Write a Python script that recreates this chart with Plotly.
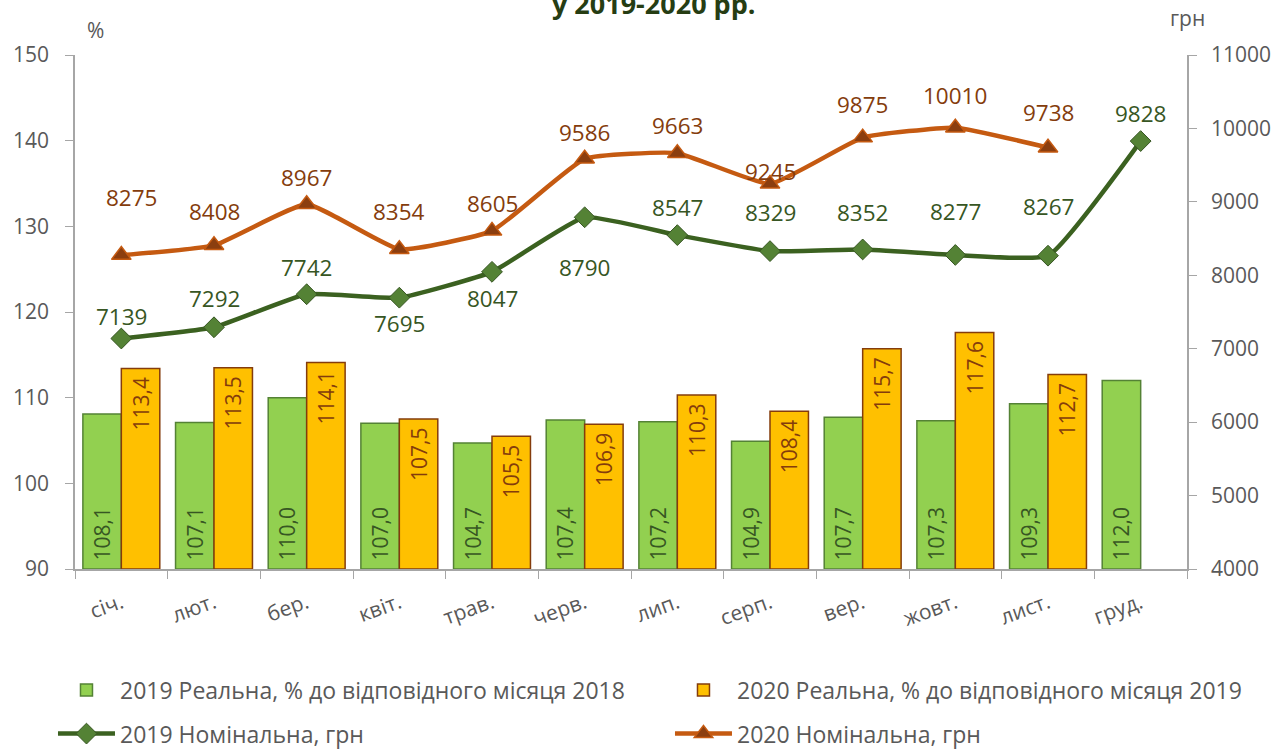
import plotly.graph_objects as go

months = ["січ.", "лют.", "бер.", "квіт.", "трав.", "черв.", "лип.", "серп.", "вер.", "жовт.", "лист.", "груд."]
real_2019 = [108.1, 107.1, 110.0, 107.0, 104.7, 107.4, 107.2, 104.9, 107.7, 107.3, 109.3, 112.0]
real_2020 = [113.4, 113.5, 114.1, 107.5, 105.5, 106.9, 110.3, 108.4, 115.7, 117.6, 112.7]
nom_2019 = [7139, 7292, 7742, 7695, 8047, 8790, 8547, 8329, 8352, 8277, 8267, 9828]
nom_2020 = [8275, 8408, 8967, 8354, 8605, 9586, 9663, 9245, 9875, 10010, 9738]

# label offsets (pixels, positive = above)
shift_2019 = [22, 29, 27, -26, -27, -50, 28, 39, 37, 43, 49, 28]
shift_2020 = [58, 34, 27, 38, 27, 26, 28, 12, 33, 32, 35]
xshift_2020 = [10, 0, 0, 0, 0, 0, 0, 0, 0, 0, 0]

BASE = 90
FONT = "Open Sans, Noto Sans, sans-serif"
GRAY = "#595959"
NB = "\u00a0"
fig = go.Figure()

def fmt(v):
    return f"{v:.1f}".replace(".", ",")

fig.add_trace(go.Bar(
    x=months, y=[v - BASE for v in real_2019], base=BASE,
    name="2019 Реальна, % до відповідного місяця 2018",
    marker=dict(color="#92d050", line=dict(color="#548235", width=1.5)),
    text=[NB + fmt(v) for v in real_2019], textposition="inside", insidetextanchor="start",
    textangle=-90, textfont=dict(color="#375623", size=21, family=FONT),
    legend="legend",
))
fig.add_trace(go.Bar(
    x=months[:len(real_2020)], y=[v - BASE for v in real_2020], base=BASE,
    name="2020 Реальна, % до відповідного місяця 2019",
    marker=dict(color="#ffc000", line=dict(color="#843c0c", width=1.5)),
    text=[fmt(v) + NB for v in real_2020], textposition="inside", insidetextanchor="end",
    textangle=-90, textfont=dict(color="#843c0c", size=21, family=FONT),
    legend="legend2",
))
fig.add_trace(go.Scatter(
    x=months, y=nom_2019, yaxis="y2", name="2019 Номінальна, грн", mode="lines+markers",
    line=dict(color="#3b6120", width=4.5, shape="spline", smoothing=0.4),
    marker=dict(symbol="diamond", size=16, color="#548235", line=dict(color="#375623", width=1)),
    legend="legend3", cliponaxis=False,
))
fig.add_trace(go.Scatter(
    x=months[:len(nom_2020)], y=nom_2020, yaxis="y2", name="2020 Номінальна, грн", mode="lines+markers",
    line=dict(color="#c55a11", width=4.5, shape="spline", smoothing=0.4),
    marker=dict(symbol="triangle-up", size=17, color="#8b3e0f", line=dict(color="#c55a11", width=1.5)),
    legend="legend4", cliponaxis=False,
))

ann = []
for m, v, s in zip(months, nom_2019, shift_2019):
    ann.append(dict(x=m, y=v, yref="y2", text=str(v), showarrow=False, yshift=s,
                    font=dict(color="#375623", size=22.5, family=FONT)))
for m, v, s, xs in zip(months, nom_2020, shift_2020, xshift_2020):
    ann.append(dict(x=m, y=v, yref="y2", text=str(v), showarrow=False, yshift=s, xshift=xs,
                    font=dict(color="#843c0c", size=22.5, family=FONT)))
ann.append(dict(x=0.018, xref="paper", y=1, yref="paper", text="%", showarrow=False,
                xanchor="center", yanchor="middle", yshift=25, font=dict(color=GRAY, size=21, family=FONT)))
ann.append(dict(x=1.0, xref="paper", y=1, yref="paper", text="грн", showarrow=False,
                xanchor="center", yanchor="middle", yshift=37, font=dict(color=GRAY, size=21, family=FONT)))
ann.append(dict(x=0.52, xref="paper", y=1, yref="paper", text="<b>у 2019-2020 рр.</b>", showarrow=False,
                xanchor="center", yanchor="middle", yshift=52, font=dict(color="#263d13", size=27, family=FONT)))

axis_common = dict(showline=True, linecolor="#a6a6a6", linewidth=1.5, ticks="outside",
                   tickcolor="#a6a6a6", ticklen=8, showgrid=False, zeroline=False,
                   tickfont=dict(size=21, color=GRAY, family=FONT))

leg_common = dict(orientation="h", xref="container", xanchor="left", yref="container", yanchor="middle",
                  font=dict(size=23, color=GRAY, family=FONT), itemwidth=57, bgcolor="rgba(0,0,0,0)")

fig.update_layout(
    width=1283, height=754,
    margin=dict(l=75, r=93, t=55, b=185),
    paper_bgcolor="white", plot_bgcolor="white",
    barmode="group", bargap=0.17, bargroupgap=0,
    font=dict(family=FONT, color=GRAY, size=21),
    showlegend=True,
    xaxis=dict(axis_common, range=[-0.5, 11.5], tickson="boundaries", tickangle=-20,
               ticklabelstandoff=12),
    yaxis=dict(axis_common, range=[90, 150], dtick=10, ticklabelstandoff=12),
    yaxis2=dict(axis_common, range=[4000, 11000], dtick=1000, tickformat="d", overlaying="y",
                side="right", ticklabelstandoff=10),
    legend=dict(leg_common, x=0.0413, y=0.0849),
    legend2=dict(leg_common, x=0.5222, y=0.0849),
    legend3=dict(leg_common, x=0.0413, y=0.027),
    legend4=dict(leg_common, x=0.5222, y=0.027),
    annotations=ann,
)

fig.write_html("out.html")
